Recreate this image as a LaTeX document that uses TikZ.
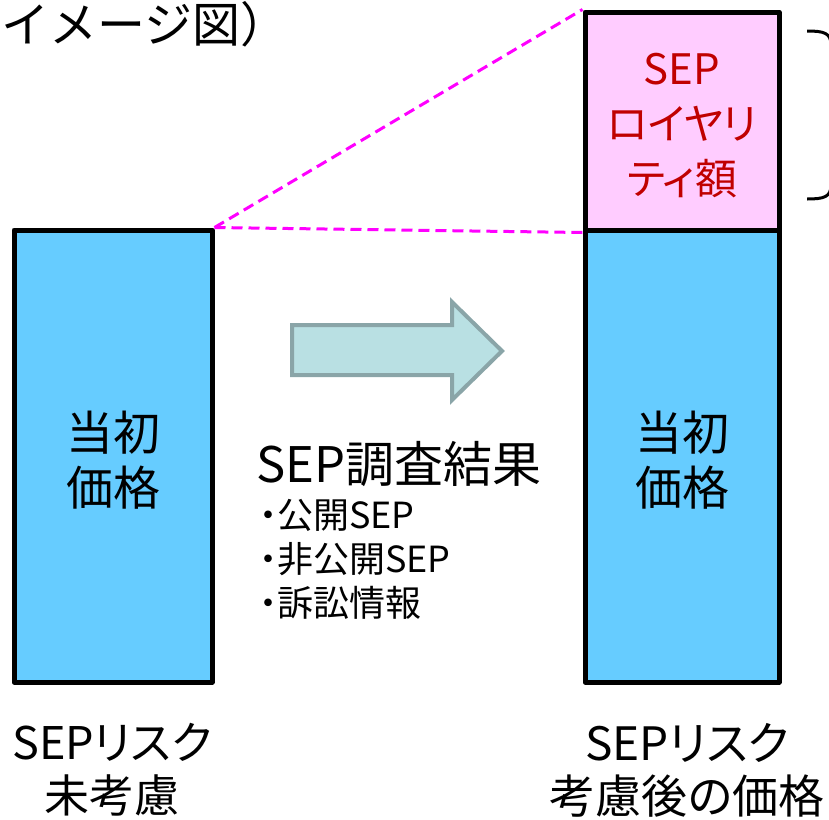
\documentclass[tikz,border=0pt]{standalone}
\usepackage{fontspec}
\setmainfont{Noto Sans CJK JP}[RawFeature=+palt]
\newfontfamily\fullw{Noto Sans CJK JP}
\usetikzlibrary{backgrounds}
\definecolor{boxblue}{HTML}{66CCFF}
\definecolor{boxpink}{HTML}{FFCCFF}
\definecolor{royred}{HTML}{C00000}
\definecolor{arrfill}{HTML}{B9E0E3}
\definecolor{arrline}{HTML}{8AA5A8}
\definecolor{dashmag}{HTML}{FF00FF}
\tikzset{
  x=1pt, y=-1pt,
  bar/.style={draw=black, line width=5pt, inner sep=0pt, line join=round},
  big/.style={font=\fontsize{47}{55}\selectfont, align=center, inner sep=0pt},
  small/.style={font=\fontsize{36}{44}\selectfont, align=left, inner sep=0pt},
  magdash/.style={draw=dashmag, line width=3pt, dash pattern=on 11pt off 6pt},
}
\begin{document}
\begin{tikzpicture}
\useasboundingbox (0,0) rectangle (829,819);
% bars
\node[bar, fill=boxblue, minimum width=198pt, minimum height=452pt] (L) at (113,456) {};
\node[bar, fill=boxblue, minimum width=194pt, minimum height=452pt] (R) at (682,456) {};
\node[bar, fill=boxpink, minimum width=194pt, minimum height=218pt] (P) at (682,121) {};
\begin{scope}[on background layer]
\draw[magdash] (L.north east) -- (P.north west);
\draw[magdash] (L.north east) -- (P.south west);
\end{scope}
% texts in bars
\node[big] (Lt) at (113,460) {当初\\価格};
\node[big] (Rt) at (682,460) {当初\\価格};
\node[big, text=royred, font=\fontsize{42}{55}\selectfont] (Pt) at (682,126) {SEP\\ロイヤリ\\ティ額};
% arrow
\draw[fill=arrfill, draw=arrline, line width=4pt, line join=miter]
  (292,325) -- (452,325) -- (452,302) -- (502,351) -- (452,400) -- (452,375) -- (292,375) -- cycle;
% middle text
\node[big, anchor=west, font=\fontsize{49}{55}\selectfont] (res) at (256,464) {SEP調査結果};
\node[small, anchor=north west] (list) at (259,499) {・公開SEP\\・非公開SEP\\・訴訟情報};
% bottom labels
\node[big, font=\fontsize{45}{53}\selectfont] (Lb) at (112,770) {SEPリスク\\未考慮};
\node[big, font=\fontsize{46}{53}\selectfont] (Rb) at (687,770) {SEPリスク\\考慮後の価格};
% title
\node[big, anchor=base west, font=\fullw\fontsize{48}{55}\selectfont] (title) at (1,42) {イメージ図）};
% brace (cropped)
\draw[line width=3pt] (807,31) .. controls (824,31) and (831,33) .. (831,45) -- (831,185) .. controls (831,197) and (824,199) .. (807,199);
\end{tikzpicture}
\end{document}
